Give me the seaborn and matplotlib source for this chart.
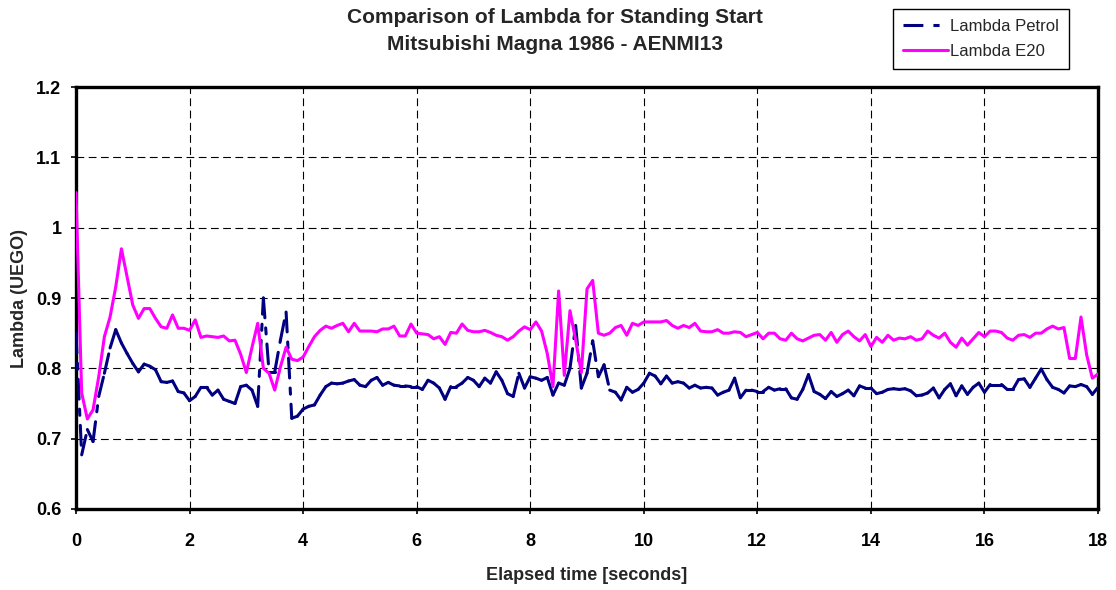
import numpy as np
import pandas as pd
import matplotlib
matplotlib.use("Agg")
import matplotlib.pyplot as plt
from matplotlib.lines import Line2D
import seaborn as sns

# samples every 0.1 s from 0 to 18 s
time_s = np.round(np.arange(0, 181) * 0.1, 1)

lambda_petrol = [
    0.850, 0.677, 0.713, 0.696, 0.760, 0.793, 0.829, 0.855, 0.836, 0.821,
    0.807, 0.795, 0.806, 0.803, 0.798, 0.781, 0.780, 0.782, 0.767, 0.765,
    0.754, 0.760, 0.773, 0.773, 0.762, 0.769, 0.756, 0.753, 0.750, 0.774,
    0.776, 0.769, 0.746, 0.900, 0.795, 0.795, 0.840, 0.880, 0.729, 0.732,
    0.742, 0.746, 0.748, 0.762, 0.774, 0.779, 0.778, 0.779, 0.782, 0.784,
    0.776, 0.774, 0.783, 0.787, 0.776, 0.780, 0.776, 0.775, 0.775, 0.774,
    0.774, 0.770, 0.783, 0.779, 0.772, 0.756, 0.774, 0.774, 0.779, 0.787,
    0.783, 0.774, 0.786, 0.779, 0.795, 0.783, 0.764, 0.760, 0.793, 0.772,
    0.788, 0.786, 0.783, 0.787, 0.762, 0.779, 0.776, 0.800, 0.861, 0.772,
    0.793, 0.839, 0.788, 0.805, 0.769, 0.766, 0.755, 0.773, 0.766, 0.770,
    0.779, 0.793, 0.789, 0.778, 0.789, 0.779, 0.781, 0.779, 0.772, 0.776,
    0.772, 0.773, 0.772, 0.762, 0.766, 0.769, 0.786, 0.758, 0.769, 0.769,
    0.767, 0.767, 0.773, 0.769, 0.771, 0.771, 0.758, 0.756, 0.770, 0.791,
    0.767, 0.763, 0.757, 0.767, 0.760, 0.764, 0.769, 0.761, 0.775, 0.772,
    0.772, 0.764, 0.766, 0.770, 0.771, 0.770, 0.771, 0.768, 0.761, 0.762,
    0.765, 0.772, 0.758, 0.770, 0.778, 0.761, 0.775, 0.763, 0.773, 0.779,
    0.766, 0.777, 0.777, 0.777, 0.770, 0.770, 0.784, 0.785, 0.773, 0.786,
    0.799, 0.784, 0.773, 0.770, 0.765, 0.775, 0.774, 0.777, 0.774, 0.763,
    0.773,
]

lambda_e20 = [
    1.050, 0.765, 0.728, 0.741, 0.788, 0.845, 0.873, 0.916, 0.970, 0.930,
    0.890, 0.871, 0.885, 0.885, 0.871, 0.859, 0.857, 0.876, 0.857, 0.857,
    0.854, 0.869, 0.844, 0.846, 0.845, 0.844, 0.846, 0.839, 0.840, 0.820,
    0.794, 0.830, 0.864, 0.800, 0.793, 0.769, 0.802, 0.830, 0.813, 0.811,
    0.816, 0.831, 0.845, 0.854, 0.860, 0.857, 0.861, 0.864, 0.852, 0.864,
    0.853, 0.853, 0.853, 0.852, 0.856, 0.856, 0.860, 0.846, 0.846, 0.863,
    0.850, 0.849, 0.848, 0.842, 0.845, 0.834, 0.851, 0.850, 0.863, 0.854,
    0.852, 0.852, 0.854, 0.851, 0.847, 0.845, 0.840, 0.845, 0.853, 0.859,
    0.855, 0.866, 0.853, 0.821, 0.774, 0.910, 0.790, 0.882, 0.840, 0.794,
    0.913, 0.925, 0.850, 0.847, 0.850, 0.858, 0.861, 0.847, 0.864, 0.861,
    0.866, 0.866, 0.866, 0.866, 0.868, 0.861, 0.857, 0.861, 0.858, 0.864,
    0.853, 0.852, 0.852, 0.855, 0.850, 0.850, 0.852, 0.851, 0.845, 0.848,
    0.851, 0.842, 0.850, 0.850, 0.842, 0.840, 0.850, 0.842, 0.839, 0.843,
    0.847, 0.848, 0.840, 0.851, 0.837, 0.848, 0.853, 0.845, 0.839, 0.848,
    0.831, 0.844, 0.837, 0.847, 0.840, 0.843, 0.842, 0.845, 0.840, 0.842,
    0.853, 0.847, 0.843, 0.850, 0.837, 0.830, 0.843, 0.833, 0.842, 0.851,
    0.845, 0.853, 0.853, 0.851, 0.843, 0.840, 0.847, 0.848, 0.844, 0.850,
    0.850, 0.856, 0.860, 0.856, 0.858, 0.814, 0.814, 0.873, 0.819, 0.786,
    0.792,
]

x_ticks = [0, 2, 4, 6, 8, 10, 12, 14, 16, 18]
y_ticks = [0.6, 0.7, 0.8, 0.9, 1.0, 1.1, 1.2]
y_tick_labels = ["0.6", "0.7", "0.8", "0.9", "1", "1.1", "1.2"]

NAVY = "#000080"
MAGENTA = "#FF00FF"
PETROL_DASH = (0, (6.5, 3.3, 2.0, 3.3))

sns.set_style("white")
plt.rcParams["font.family"] = ["Liberation Sans", "DejaVu Sans"]

fig = plt.figure(figsize=(11.16, 5.9), dpi=100)
ax = fig.add_axes([0.0681, 0.1373, 0.9158, 0.7152])

# Excel restarts the dash pattern on every segment, so draw petrol per segment
seg_rows = []
for i in range(len(time_s) - 1):
    seg_rows.append((i, time_s[i], lambda_petrol[i]))
    seg_rows.append((i, time_s[i + 1], lambda_petrol[i + 1]))
seg_df = pd.DataFrame(seg_rows, columns=["seg", "time", "lambda"])

e20_df = pd.DataFrame({"time": time_s, "lambda": lambda_e20})

sns.lineplot(data=seg_df, x="time", y="lambda", units="seg", estimator=None,
             color=NAVY, linewidth=2.2, linestyle=PETROL_DASH,
             dash_capstyle="round", ax=ax, zorder=3)
sns.lineplot(data=e20_df, x="time", y="lambda", color=MAGENTA, linewidth=2.2,
             ax=ax, zorder=4)

ax.set_xlim(0, 18)
ax.set_ylim(0.6, 1.2)
ax.set_xticks(x_ticks)
ax.set_xticklabels([str(t) for t in x_ticks])
ax.set_yticks(y_ticks)
ax.set_yticklabels(y_tick_labels)

ax.grid(True, color="black", linewidth=0.8, linestyle=(0, (7, 4)))
for s in ax.spines.values():
    s.set_color("black")
    s.set_linewidth(2.4)

ax.tick_params(axis="both", direction="out", length=3.5, width=1.2,
               labelsize=13, colors="black")
ax.tick_params(axis="x", pad=14, bottom=True)
ax.tick_params(axis="y", pad=7, left=True)
for lab in ax.get_xticklabels() + ax.get_yticklabels():
    lab.set_fontweight("bold")

ax.set_xlabel("Elapsed time [seconds]", fontsize=13, fontweight="bold")
ax.set_ylabel("Lambda (UEGO)", fontsize=13, fontweight="bold")
ax.xaxis.set_label_coords(0.5, -0.137)
ax.yaxis.set_label_coords(-0.047, 0.5)

fig.text(0.497, 0.971, "Comparison of Lambda for Standing Start",
         ha="center", va="center", fontsize=15, fontweight="bold")
fig.text(0.497, 0.925, "Mitsubishi Magna 1986 - AENMI13",
         ha="center", va="center", fontsize=15, fontweight="bold")

handles = [
    Line2D([0], [0], color=NAVY, linewidth=2.2, linestyle=PETROL_DASH),
    Line2D([0], [0], color=MAGENTA, linewidth=2.2),
]
leg = fig.legend(handles, ["Lambda Petrol", "Lambda E20"],
                 loc="upper left", bbox_to_anchor=(893 / 1116, 1 - 9 / 590),
                 fontsize=12, frameon=True, fancybox=False, framealpha=1,
                 edgecolor="black", handlelength=2.7, handletextpad=0.15,
                 borderpad=0.6, labelspacing=0.6, borderaxespad=0)
leg.get_frame().set_linewidth(1.0)

fig.savefig("out.png", dpi=100)
